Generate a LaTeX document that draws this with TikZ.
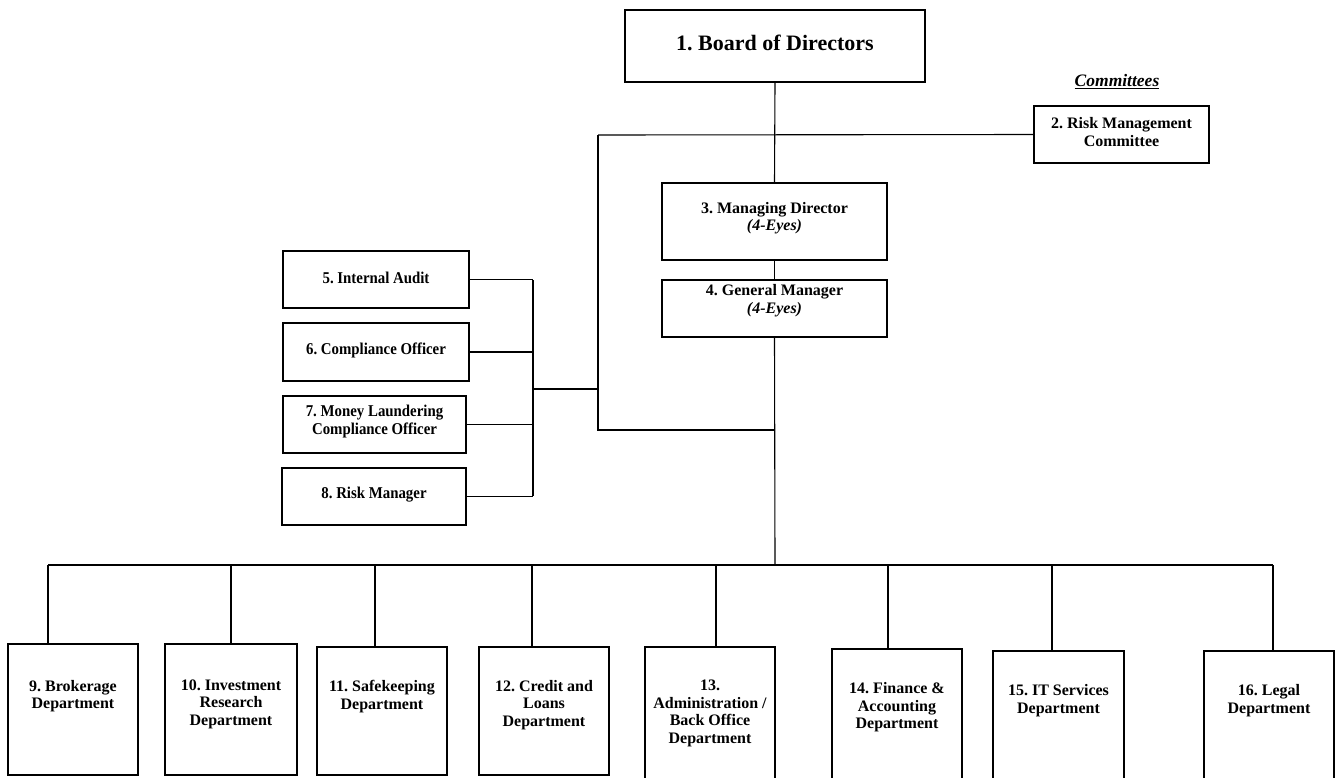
\documentclass[tikz,border=0pt]{standalone}
\usepackage{fontspec}
\setmainfont{Liberation Serif}
\newfontfamily\condfont{Liberation Serif}[FakeStretch=0.9]
\usetikzlibrary{fit}
\frenchspacing
\tikzset{
  box/.style={draw=black, line width=1.1pt, inner sep=0pt, fill=white},
  lbl/.style={align=center, inner sep=0pt, font=\fontsize{16}{17.6}\selectfont\bfseries\frenchspacing},
  condlbl/.style={lbl, font=\condfont\fontsize{16.5}{18}\selectfont\bfseries\frenchspacing},
  conn/.style={draw=black, line width=1.1pt},
}
\newcommand\obox[8][lbl]{%
  \node[box, fit={(#3,#4) (#5,#6)}] (#2) {};
  \node[#1] (#2t) at ({(#3+#5)/2},#7) {#8};}
\begin{document}
\begin{tikzpicture}[x=1pt,y=-1pt]
\useasboundingbox[fill=white] (0,0) rectangle (1341,777);
% top
\node[box, fit={(625,10) (925,82)}] (b1) {};
\node[lbl, font=\fontsize{22}{26}\selectfont\bfseries\frenchspacing] (b1t) at (775,43) {1. Board of Directors};
\node[lbl, font=\fontsize{17.5}{20}\selectfont\bfseries\itshape] (comm) at (1117,82) {\underline{Committees}};
\obox{b2}{1034}{106}{1209}{163}{132}{2. Risk Management\\Committee}
\obox{b3}{662}{183}{887}{260}{218}{3. Managing Director\\\textit{(4-Eyes)}}
\obox{b4}{662}{280}{887}{337}{300.5}{4. General Manager\\\textit{(4-Eyes)}}
% left staff
\obox[condlbl]{b5}{283}{251}{469}{308}{278}{5. Internal Audit}
\obox[condlbl]{b6}{283}{323}{469}{381}{350}{6. Compliance Officer}
\obox[condlbl]{b7}{283}{396}{466}{453}{422}{7. Money Laundering\\Compliance Officer}
\obox[condlbl]{b8}{282}{468}{466}{525}{495}{8. Risk Manager}
% departments
\obox{b9}{8}{644}{138}{775}{696}{9. Brokerage\\Department}
\obox{b10}{165}{644}{297}{775}{704}{10. Investment\\Research\\Department}
\obox{b11}{317}{647}{447}{775}{696.5}{11. Safekeeping\\Department}
\obox{b12}{479}{647}{609}{775}{705}{12. Credit and\\Loans\\Department}
\obox{b13}{645}{647}{775}{790}{713.5}{13.\\Administration /\\Back Office\\Department}
\obox{b14}{832}{649}{962}{790}{707.5}{14. Finance \&\\Accounting\\Department}
\obox{b15}{993}{651}{1124}{790}{700.5}{15. IT Services\\Department}
\obox{b16}{1204}{651}{1334}{790}{700.5}{16. Legal\\Department}
% coordinates
\coordinate (lt) at (598,135);
\coordinate (lb) at (598,430);
\coordinate (tj) at (775,430);
\coordinate (bj) at (598,389);
\coordinate (brt) at (533,280);
\coordinate (brb) at (533,496);
\coordinate (brm) at (533,389);
\coordinate (bus) at (775,565);
\coordinate (busL) at (48,565);
\coordinate (busR) at (1273,565);
\coordinate (d10) at (231,565);
\coordinate (d11) at (375,565);
\coordinate (d12) at (532,565);
\coordinate (d13) at (716,565);
\coordinate (d14) at (888,565);
\coordinate (d15) at (1052,565);
% connectors
\draw[conn] (b1.south) -- (b3.north);
\draw[conn] (b3.south) -- (b4.north);
\draw[conn] (b4.south) -- (bus);
\draw[conn] (lt) -- (b2.west);
\draw[conn] (lt) -- (lb) -- (tj);
\draw[conn] (brm) -- (bj);
\draw[conn] (brt) -- (brb);
\draw[conn] (b5.east) -- (b5.east -| brt);
\draw[conn] (b6.east) -- (b6.east -| brt);
\draw[conn] (b7.east) -- (b7.east -| brt);
\draw[conn] (b8.east) -- (b8.east -| brt);
\draw[conn] (busL) -- (busR);
\draw[conn] (busL) -- (busL |- b9.north);
\draw[conn] (d10) -- (d10 |- b10.north);
\draw[conn] (d11) -- (d11 |- b11.north);
\draw[conn] (d12) -- (d12 |- b12.north);
\draw[conn] (d13) -- (d13 |- b13.north);
\draw[conn] (d14) -- (d14 |- b14.north);
\draw[conn] (d15) -- (d15 |- b15.north);
\draw[conn] (busR) -- (busR |- b16.north);
\end{tikzpicture}
\end{document}
